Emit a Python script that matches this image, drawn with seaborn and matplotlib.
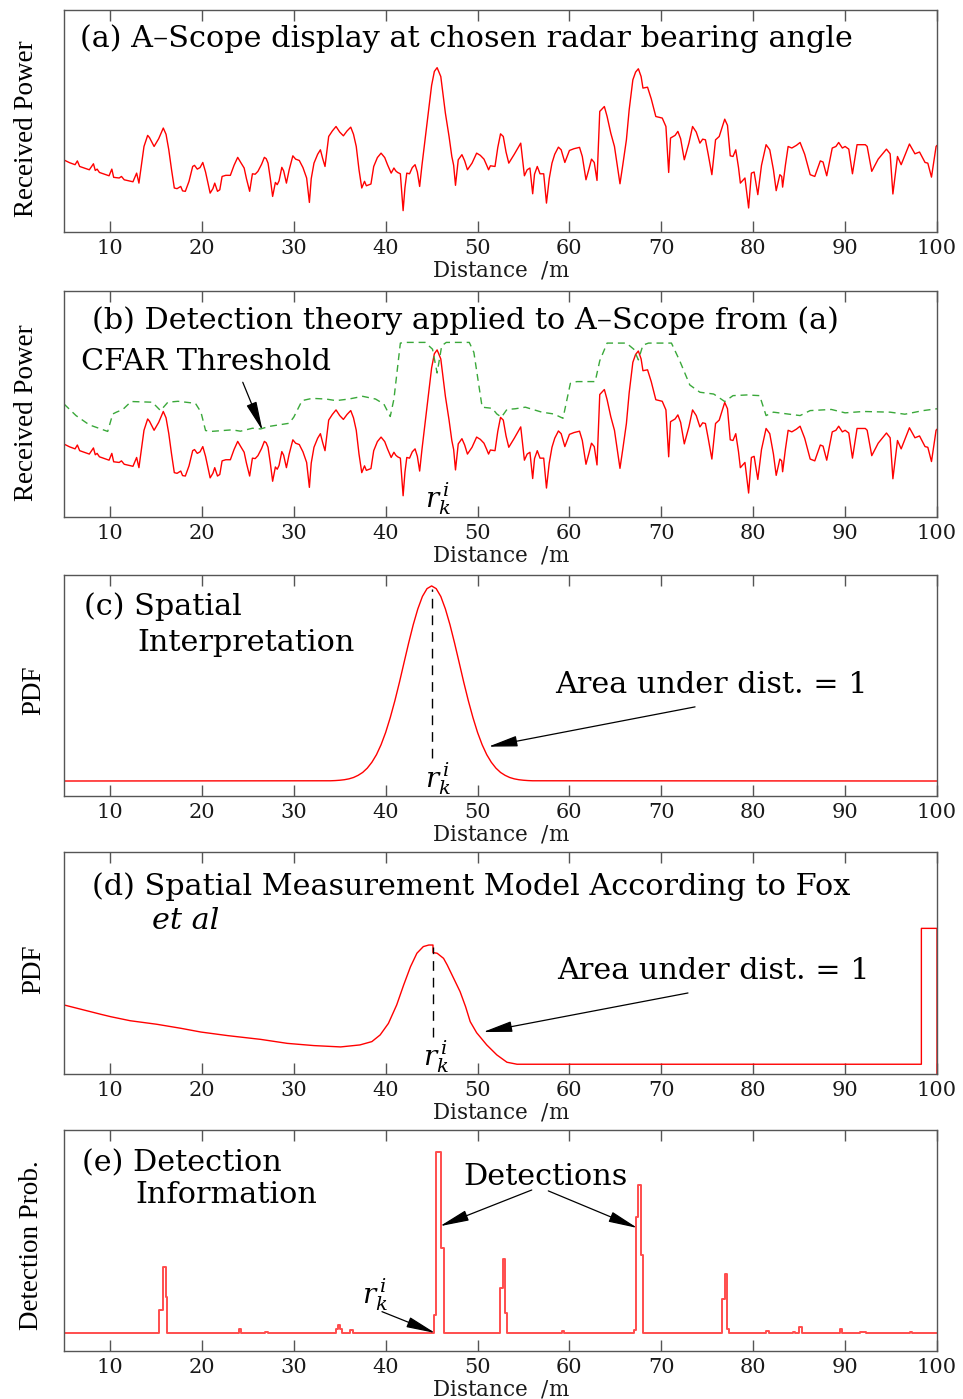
import matplotlib
matplotlib.use("Agg")
import numpy as np
import pandas as pd
import matplotlib.pyplot as plt
import seaborn as sns

# ---------------------------------------------------------------
# Data
# ---------------------------------------------------------------
# A-scope: received power (percent of panel height) against range [m]
scope_dist = [
    5.0, 5.6, 6.2, 6.45, 6.7, 7.2, 7.75, 8.2, 8.4, 8.6, 8.85, 9.4, 9.9, 10.2,
    10.4, 11.0, 11.25, 11.55, 12.5, 12.9, 13.15, 13.7, 14.1, 14.3, 14.8, 15.3,
    15.8, 16.1, 16.4, 16.7, 17.0, 17.3, 17.7, 17.9, 18.2, 18.6, 19.0, 19.2,
    19.5, 19.8, 20.1, 20.4, 20.9, 21.2, 21.4, 21.7, 21.95, 22.2, 22.6, 23.1,
    23.5, 23.9, 24.2, 24.6, 24.85, 25.2, 25.5, 25.8, 26.1, 26.5, 26.8, 27.0,
    27.2, 27.45, 27.7, 28.0, 28.2, 28.4, 28.7, 28.9, 29.2, 29.5, 29.9, 30.2,
    30.6, 31.0, 31.4, 31.7, 31.9, 32.2, 32.6, 32.9, 33.15, 33.4, 33.8, 34.2,
    34.6, 35.0, 35.4, 35.8, 36.2, 36.5, 36.8, 37.1, 37.4, 37.7, 37.9, 38.4,
    38.7, 39.1, 39.5, 39.9, 40.2, 40.6, 40.9, 41.1, 41.3, 41.6, 41.9, 42.1,
    42.3, 42.6, 42.9, 43.2, 43.45, 43.7, 43.95, 44.2, 44.6, 45.0, 45.3, 45.6,
    46.0, 46.5, 46.9, 47.2, 47.4, 47.6, 47.9, 48.3, 48.6, 48.9, 49.4, 49.9,
    50.3, 50.7, 51.0, 51.2, 51.4, 51.9, 52.2, 52.5, 52.8, 53.1, 53.4, 54.0,
    54.7, 55.1, 55.4, 55.7, 56.0, 56.2, 56.5, 56.8, 57.2, 57.5, 57.8, 58.1,
    58.4, 58.8, 59.1, 59.5, 60.0, 60.5, 61.1, 61.4, 61.8, 62.1, 62.4, 62.7,
    63.0, 63.3, 63.8, 64.1, 64.5, 64.9, 65.2, 65.5, 65.8, 66.2, 66.5, 66.9,
    67.2, 67.5, 67.8, 68.0, 68.5, 68.9, 69.4, 70.1, 70.5, 70.8, 71.0, 71.5,
    71.8, 72.1, 72.5, 73.0, 73.4, 73.8, 74.2, 74.5, 74.8, 75.1, 75.5, 75.9,
    76.3, 76.9, 77.2, 77.5, 77.8, 78.1, 78.4, 78.6, 79.1, 79.5, 79.8, 80.1,
    80.5, 80.9, 81.4, 81.8, 82.2, 82.5, 82.9, 83.1, 83.2, 83.5, 83.8, 84.2,
    84.7, 85.1, 85.6, 86.2, 86.7, 87.3, 87.6, 88.0, 88.6, 89.0, 89.3, 89.7,
    90.0, 90.4, 90.8, 91.3, 92.2, 92.4, 92.9, 93.6, 94.5, 94.9, 95.2, 95.7,
    96.1, 97.0, 97.6, 98.1, 98.7, 99.0, 99.4, 99.9, 100.0,
]
scope_power = [
    32.4, 31.2, 30.3, 32.0, 29.5, 28.8, 28.0, 30.7, 27.7, 28.3, 26.8, 26.0, 25.3, 28.3,
    24.6, 24.3, 25.0, 23.5, 22.6, 26.5, 22.0, 38.5, 43.5, 42.5, 38.5, 42.0,
    46.8, 44.0, 37.0, 28.0, 19.8, 19.5, 20.5, 18.5, 18.3, 22.8, 29.5, 30.0,
    28.3, 29.0, 31.3, 27.0, 17.5, 19.5, 22.0, 18.3, 19.0, 25.0, 25.5, 25.5,
    30.0, 33.6, 31.5, 28.8, 24.0, 18.3, 26.2, 26.0, 27.3, 30.5, 33.6, 33.0,
    31.0, 24.0, 16.0, 22.3, 21.3, 23.0, 29.1, 27.5, 22.0, 28.0, 34.3, 32.8,
    32.2, 29.0, 24.3, 13.3, 24.0, 31.0, 35.0, 37.0, 33.0, 29.5, 43.0, 45.5,
    47.5, 45.0, 43.3, 45.5, 47.2, 44.0, 38.5, 28.0, 19.8, 22.8, 20.8, 21.6,
    29.5, 33.5, 35.5, 33.5, 30.3, 26.5, 28.8, 27.5, 26.8, 26.2, 9.6, 20.0,
    26.5, 26.2, 29.0, 30.3, 27.0, 20.5, 30.0, 38.5, 52.0, 66.0, 72.3, 74.0,
    70.0, 53.5, 43.0, 34.0, 30.0, 21.0, 32.5, 34.8, 32.0, 28.0, 31.0, 35.5,
    34.5, 32.8, 30.0, 28.0, 29.8, 29.5, 38.0, 44.2, 43.0, 36.0, 31.0, 35.0,
    40.0, 25.3, 28.0, 28.8, 17.2, 26.0, 29.5, 26.2, 26.2, 13.0, 24.0, 31.0,
    35.0, 38.2, 37.0, 31.3, 36.7, 37.5, 38.1, 34.0, 23.5, 28.0, 32.8, 31.3,
    23.2, 54.3, 56.5, 52.0, 44.5, 38.5, 30.0, 21.7, 30.0, 41.5, 55.0, 68.5,
    72.0, 73.5, 70.0, 64.8, 65.2, 60.0, 52.0, 51.3, 47.5, 26.8, 42.3, 43.5,
    45.3, 42.0, 32.5, 40.0, 47.5, 45.0, 40.0, 41.8, 41.5, 35.0, 25.8, 41.5,
    43.0, 50.8, 48.0, 34.3, 34.0, 37.0, 29.0, 22.0, 24.3, 10.8, 26.5, 27.0,
    16.8, 30.0, 39.3, 37.0, 28.0, 18.6, 25.8, 25.0, 20.2, 30.0, 38.5, 37.8,
    39.0, 40.3, 35.0, 25.8, 25.0, 32.0, 31.5, 25.3, 37.8, 38.5, 40.3, 37.8,
    38.5, 37.3, 26.2, 39.3, 39.3, 38.5, 27.3, 32.8, 37.3, 35.2, 17.1, 34.0,
    30.3, 39.6, 35.2, 36.0, 31.3, 31.0, 24.7, 38.5, 39.0,
]

# CFAR detection threshold on the same scale
cfar_dist = [
    5.0, 6.3, 7.75, 9.75, 10.3, 10.7, 11.4, 12.3, 14.6, 15.5, 16.3, 17.4, 19.3,
    19.9, 20.4, 21.0, 23.3, 24.2, 25.5, 26.4, 27.3, 29.5, 30.0, 30.9, 32.0,
    33.5, 34.6, 36.0, 37.5, 38.9, 39.8, 40.5, 40.9, 41.6, 42.2, 44.3, 45.1,
    45.6, 46.1, 46.6, 49.1, 49.6, 50.5, 51.6, 52.1, 52.6, 53.2, 54.1, 55.2,
    57.0, 58.3, 59.3, 60.1, 60.8, 62.8, 63.3, 64.1, 66.2, 67.0, 67.5, 68.0,
    68.6, 71.1, 72.0, 73.1, 74.2, 75.7, 76.9, 77.8, 79.3, 80.7, 81.4, 82.2,
    85.1, 86.2, 88.5, 90.0, 92.0, 94.9, 96.5, 98.5, 100.0,
]
cfar_power = [
    50.1, 45.0, 40.9, 38.0, 45.7, 46.5, 47.7, 51.2, 50.9, 47.2, 50.9, 51.3, 50.4,
    46.5, 38.4, 38.0, 38.7, 38.1, 39.4, 39.1, 40.2, 41.6, 44.3, 51.6, 52.6,
    52.3, 51.6, 52.3, 53.5, 52.3, 50.1, 44.6, 52.3, 77.0, 77.3, 77.3, 74.3,
    63.8, 75.8, 77.3, 77.3, 72.9, 48.7, 48.2, 45.7, 44.3, 47.7, 48.0, 48.7,
    46.5, 45.7, 43.8, 59.2, 60.0, 60.0, 69.2, 77.0, 77.0, 74.3, 69.6, 76.1,
    77.0, 77.0, 69.2, 58.5, 55.3, 54.5, 51.2, 53.8, 54.1, 53.8, 45.0, 46.5,
    45.0, 47.2, 47.7, 46.2, 46.8, 46.5, 45.6, 47.2, 48.0,
]

# Spatial interpretation of the detection (relative density)
spatial_dist = [
    5.0, 34.0, 34.5, 35.0, 35.5, 36.0, 36.5, 37.0, 37.5, 38.0, 38.5, 39.0, 39.5,
    40.0, 40.5, 41.0, 41.5, 42.0, 42.5, 43.0, 43.5, 44.0, 44.5, 45.0, 45.5,
    46.0, 46.5, 47.0, 47.5, 48.0, 48.5, 49.0, 49.5, 50.0, 50.5, 51.0, 51.5,
    52.0, 52.5, 53.0, 53.5, 54.0, 54.5, 55.0, 55.5, 56.0, 100.0,
]
spatial_pdf = [
    0.0, 0.0012, 0.0022, 0.0039, 0.0066, 0.011, 0.018, 0.029, 0.044, 0.066, 0.096,
    0.135, 0.186, 0.249, 0.325, 0.411, 0.506, 0.607, 0.707, 0.801, 0.882, 0.946,
    0.986, 1.0, 0.986, 0.946, 0.882, 0.801, 0.707, 0.607, 0.506, 0.411, 0.325,
    0.249, 0.186, 0.135, 0.096, 0.066, 0.044, 0.029, 0.018, 0.011, 0.0066, 0.0039,
    0.0022, 0.0012, 0.0,
]

# Measurement model after Fox et al (relative density)
fox_dist = [
    5.0, 9.0, 10.1, 12.2, 15.1, 17.7, 19.9, 22.8, 26.4, 29.3, 32.2, 35.1, 37.2,
    38.5, 39.4, 40.3, 41.2, 41.96, 42.7, 43.4, 44.1, 44.7, 45.15, 45.15, 45.6,
    46.3, 46.7, 47.4, 48.1, 48.7, 49.2, 49.9, 51.0, 52.1, 53.2, 54.3, 98.3,
    98.3, 100.0, 100.0,
]
fox_pdf = [
    0.311, 0.269, 0.258, 0.240, 0.224, 0.206, 0.189, 0.173, 0.156, 0.138, 0.128,
    0.122, 0.131, 0.146, 0.176, 0.228, 0.311, 0.401, 0.483, 0.544, 0.574, 0.581,
    0.581, 0.547, 0.544, 0.521, 0.491, 0.431, 0.371, 0.303, 0.236, 0.186, 0.131,
    0.086, 0.053, 0.044, 0.044, 0.656, 0.656, 0.0,
]

# Detection probability: range bins with non-zero probability
det_start = [15.35, 15.75, 16.05, 24.0, 26.9, 34.6, 34.8, 35.05, 36.1,
             45.25, 45.5, 46.05, 52.45, 52.75, 53.0, 59.2,
             67.0, 67.2, 67.5, 67.8, 76.6, 76.9, 77.15,
             81.4, 84.3, 85.0, 89.4, 91.6, 97.1]
det_end = [15.75, 16.05, 16.25, 24.3, 27.2, 34.8, 35.05, 35.2, 36.4,
           45.5, 46.05, 46.3, 52.75, 53.0, 53.25, 59.4,
           67.2, 67.5, 67.8, 68.05, 76.9, 77.15, 77.4,
           81.7, 84.6, 85.35, 89.7, 92.3, 97.3]
det_prob = [0.127, 0.365, 0.2, 0.02, 0.006, 0.02, 0.045, 0.02, 0.015,
            0.1, 1.0, 0.47, 0.247, 0.41, 0.11, 0.01,
            0.015, 0.64, 0.82, 0.43, 0.19, 0.326, 0.02,
            0.012, 0.006, 0.035, 0.02, 0.005, 0.005]

r_k = 45.0                       # detected range of the target
x_ticks = [10, 20, 30, 40, 50, 60, 70, 80, 90, 100]

# ---------------------------------------------------------------
# Derived tables
# ---------------------------------------------------------------
scope = pd.DataFrame({"dist": scope_dist, "power": scope_power})
cfar = pd.DataFrame({"dist": cfar_dist, "power": cfar_power})
spatial = pd.DataFrame({"dist": spatial_dist, "pdf": spatial_pdf})
fox = pd.DataFrame({"dist": fox_dist, "pdf": fox_pdf})

step_x, step_y = [5.0], [0.0]
for i, (s, e, p) in enumerate(zip(det_start, det_end, det_prob)):
    step_x.append(s)
    step_y.append(p)
    nxt = det_start[i + 1] if i + 1 < len(det_start) else None
    if nxt is None or nxt > e + 1e-9:
        step_x.append(e)
        step_y.append(0.0)
step_x.append(100.0)
step_y.append(0.0)
detect = pd.DataFrame({"dist": step_x, "prob": step_y})

# ---------------------------------------------------------------
# Style
# ---------------------------------------------------------------
sns.set_theme(style="white")
plt.rcParams["font.family"] = ["DejaVu Serif"]
plt.rcParams["mathtext.fontset"] = "dejavuserif"
plt.rcParams["text.color"] = "black"

RED = "#ff0000"
SPINE = "#555555"
TITLE_FS = 21.8
TICK_FS = 15
YLAB_FS = 19.5
RK_FS = 20
RK = r"$r_{k}^{\,i}$"
ARROW = dict(arrowstyle="-|>,head_length=1.2,head_width=0.22", color="black",
             lw=0.9, shrinkA=0, shrinkB=0, mutation_scale=15)

fig = plt.figure(figsize=(9.63, 13.99), dpi=100)
L, W = 0.0665, 0.9065
ax_a = fig.add_axes([L, 0.8342, W, 0.1587])
ax_b = fig.add_axes([L, 0.6301, W, 0.1619])
ax_c = fig.add_axes([L, 0.4310, W, 0.1580])
ax_d = fig.add_axes([L, 0.2323, W, 0.1587])
ax_e = fig.add_axes([L, 0.0343, W, 0.1580])


def frame(ax, ylim, ylabel, ylab_x, ylab_y):
    ax.set_xlim(5, 100)
    ax.set_ylim(*ylim)
    ax.set_xticks(x_ticks)
    ax.set_yticks([])
    ax.tick_params(axis="x", direction="in", top=True, bottom=True, length=8,
                   width=1.0, color=SPINE, labelsize=TICK_FS, pad=5,
                   labelcolor="#1a1a1a")
    for sp in ax.spines.values():
        sp.set_color(SPINE)
        sp.set_linewidth(1.0)
    ax.set_xlabel("Distance  $/$m", fontsize=15.5, labelpad=1, color="#1a1a1a")
    ax.set_ylabel(ylabel, fontsize=YLAB_FS, family=["Liberation Serif"],
                  va="center", color="black")
    ax.yaxis.set_label_coords(ylab_x, ylab_y)


# (a) A-scope
sns.lineplot(data=scope, x="dist", y="power", ax=ax_a, color=RED, lw=1.0,
             estimator=None, sort=False)
frame(ax_a, (0, 100), "Received Power", -0.0435, 0.464)
ax_a.text(0.0183, 0.834, "(a) A\u2013Scope display at chosen radar bearing angle",
          transform=ax_a.transAxes, fontsize=TITLE_FS, va="baseline")

# (b) CFAR detection
sns.lineplot(data=scope, x="dist", y="power", ax=ax_b, color=RED, lw=1.0,
             estimator=None, sort=False)
sns.lineplot(data=cfar, x="dist", y="power", ax=ax_b, color="#3aa83a", lw=1.0,
             linestyle=(0, (5, 3.5)), estimator=None, sort=False)
frame(ax_b, (0, 100), "Received Power", -0.0435, 0.464)
ax_b.text(0.0317, 0.833, "(b) Detection theory applied to A\u2013Scope from (a)",
          transform=ax_b.transAxes, fontsize=TITLE_FS, va="baseline")
ax_b.text(0.019, 0.653, "CFAR Threshold", transform=ax_b.transAxes,
          fontsize=TITLE_FS, va="baseline")
ax_b.annotate("", xy=(26.6, 38.4), xytext=(24.45, 59.7), arrowprops=ARROW)
ax_b.text(45.7, 8.5, RK, fontsize=RK_FS, ha="center", va="center")

# (c) spatial interpretation
sns.lineplot(data=spatial, x="dist", y="pdf", ax=ax_c, color=RED, lw=1.0,
             estimator=None, sort=False)
frame(ax_c, (-0.077, 1.056), "PDF", -0.0344, 0.48)
ax_c.vlines(r_k, 0.118, spatial["pdf"].max() - 0.015, colors="black",
            linestyles=(0, (7, 5)), lw=1.0)
ax_c.text(0.0229, 0.819, "(c) Spatial", transform=ax_c.transAxes,
          fontsize=TITLE_FS, va="baseline")
ax_c.text(0.084, 0.657, "Interpretation", transform=ax_c.transAxes,
          fontsize=TITLE_FS, va="baseline")
ax_c.text(0.5624, 0.466, "Area under dist. = 1", transform=ax_c.transAxes,
          fontsize=TITLE_FS, va="baseline")
ax_c.annotate("", xy=(51.17, 0.176), xytext=(73.67, 0.38), arrowprops=ARROW)
ax_c.text(45.7, 0.01, RK, fontsize=RK_FS, ha="center", va="center")

# (d) measurement model
sns.lineplot(data=fox, x="dist", y="pdf", ax=ax_d, color=RED, lw=1.0,
             estimator=None, sort=False)
frame(ax_d, (0, 1), "PDF", -0.0344, 0.473)
fox_peak = fox.loc[fox["dist"] < 60, "pdf"].max()
ax_d.vlines(45.15, 0.168, fox_peak - 0.01, colors="black",
            linestyles=(0, (7, 5)), lw=1.0)
ax_d.text(0.0316, 0.806, "(d) Spatial Measurement Model According to Fox",
          transform=ax_d.transAxes, fontsize=TITLE_FS, va="baseline")
ax_d.text(0.1008, 0.652, "et al", transform=ax_d.transAxes,
          fontsize=TITLE_FS, va="baseline", style="italic")
ax_d.text(0.5647, 0.427, "Area under dist. = 1", transform=ax_d.transAxes,
          fontsize=TITLE_FS, va="baseline")
ax_d.annotate("", xy=(50.6, 0.189), xytext=(72.9, 0.365), arrowprops=ARROW)
ax_d.text(45.5, 0.077, RK, fontsize=RK_FS, ha="center", va="center")

# (e) detection information
sns.lineplot(data=detect, x="dist", y="prob", ax=ax_e, color="#ff4d4d", lw=1.4,
             estimator=None, sort=False, drawstyle="steps-post")
frame(ax_e, (-0.0994, 1.1215), "Detection Prob.", -0.0378, 0.48)
ax_e.text(0.0203, 0.811, "(e) Detection", transform=ax_e.transAxes,
          fontsize=TITLE_FS, va="baseline")
ax_e.text(0.0813, 0.668, "Information", transform=ax_e.transAxes,
          fontsize=TITLE_FS, va="baseline")
ax_e.text(0.457, 0.751, "Detections", transform=ax_e.transAxes,
          fontsize=TITLE_FS, va="baseline")
ax_e.annotate("", xy=(45.9, 0.59), xytext=(55.9, 0.79), arrowprops=ARROW)
ax_e.annotate("", xy=(67.4, 0.58), xytext=(57.7, 0.785), arrowprops=ARROW)
ax_e.text(38.85, 0.21, RK, fontsize=RK_FS, ha="center", va="center")
ax_e.annotate("", xy=(45.4, 0.0), xytext=(39.6, 0.118), arrowprops=ARROW)

fig.savefig("out.png", dpi=100)
